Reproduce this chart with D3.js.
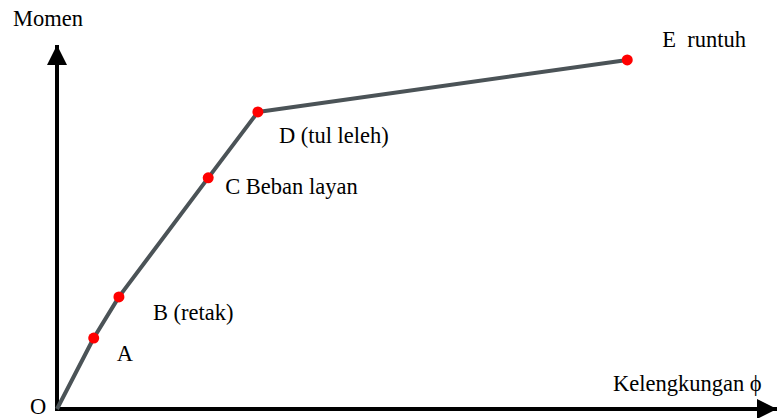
<!DOCTYPE html>
<html lang="en">
  <head>
    <meta charset="utf-8">
    <title>Momen - Kelengkungan</title>
    <style>
      body { margin: 0; background: #fff; }
    </style>
  </head>
  <body>
    <div id="svg-area"></div>
    <script src="https://cdn.jsdelivr.net/npm/d3@7"></script>
    <script>
      const svg_width = 779;
      const svg_height = 418;
      const font = "'Liberation Serif', 'Times New Roman', Times, serif";

      // points along the moment-curvature curve (O, A, B, C, D, E)
      const pointNames = ['O', 'A', 'B', 'C', 'D', 'E'];
      const phiValues = [0, 5.1, 8.6, 21.0, 27.9, 79.2];
      const momentValues = [0, 19.5, 30.8, 63.5, 81.6, 95.9];
      const pointLabels = ['O', 'A', 'B (retak)', 'C Beban layan', 'D (tul leleh)', 'E\u00a0 runtuh'];
      const axisLabels = ['Kelengkungan \u03d5', 'Momen'];

      // label offsets from each point (px)
      const labelOffsets = [[-27, 5], [23, 23], [34, 23], [17, 16], [21, 31], [35, -13]];

      const svg = d3.select('#svg-area')
        .append('svg')
        .attr('width', svg_width)
        .attr('height', svg_height)
        .style('font-family', font)
        .style('font-size', '22.5px');

      const x_scale = d3.scaleLinear()
        .domain([0, 100])
        .range([57, 777]);

      const y_scale = d3.scaleLinear()
        .domain([0, 100])
        .range([409, 45]);

      const defs = svg.append('defs');
      defs.append('marker')
        .attr('id', 'arrow')
        .attr('viewBox', '0 0 10 10')
        .attr('refX', 10)
        .attr('refY', 5)
        .attr('markerUnits', 'userSpaceOnUse')
        .attr('markerWidth', 20)
        .attr('markerHeight', 20)
        .attr('orient', 'auto')
        .append('path')
        .attr('d', 'M0,0 L10,5 L0,10 Z')
        .attr('fill', '#000');

      //axes as arrows
      svg.append('line')
        .attr('x1', x_scale(0)).attr('y1', y_scale(0))
        .attr('x2', x_scale(0)).attr('y2', y_scale(100))
        .attr('stroke', '#000').attr('stroke-width', 4)
        .attr('marker-end', 'url(#arrow)');

      svg.append('line')
        .attr('x1', x_scale(0) - 2).attr('y1', y_scale(0))
        .attr('x2', x_scale(100)).attr('y2', y_scale(0))
        .attr('stroke', '#000').attr('stroke-width', 4)
        .attr('marker-end', 'url(#arrow)');

      const pts = phiValues.map((v, i) => [v, momentValues[i]]);

      //curve
      svg.append('path')
        .datum(pts)
        .attr('fill', 'none')
        .attr('stroke', '#4b5357')
        .attr('stroke-width', 4)
        .attr('stroke-linejoin', 'round')
        .attr('d', d3.line()
          .x((d) => x_scale(d[0]))
          .y((d) => y_scale(d[1])));

      //red points (not at O)
      svg.selectAll('circle')
        .data(pts.slice(1))
        .enter()
        .append('circle')
        .attr('cx', (d) => x_scale(d[0]))
        .attr('cy', (d) => y_scale(d[1]))
        .attr('r', 5.5)
        .attr('fill', '#ff0000');

      svg.selectAll('text.pt')
        .data(pointLabels)
        .enter()
        .append('text')
        .attr('class', 'pt')
        .attr('x', (d, i) => x_scale(phiValues[i]) + labelOffsets[i][0])
        .attr('y', (d, i) => y_scale(momentValues[i]) + labelOffsets[i][1])
        .attr('fill', '#000')
        .text((d) => d);

      svg.append('text')
        .attr('x', 613)
        .attr('y', 391)
        .attr('fill', '#000')
        .text(axisLabels[0]);

      svg.append('text')
        .attr('x', 13)
        .attr('y', 26)
        .attr('fill', '#000')
        .text(axisLabels[1]);
    </script>
  </body>
</html>
